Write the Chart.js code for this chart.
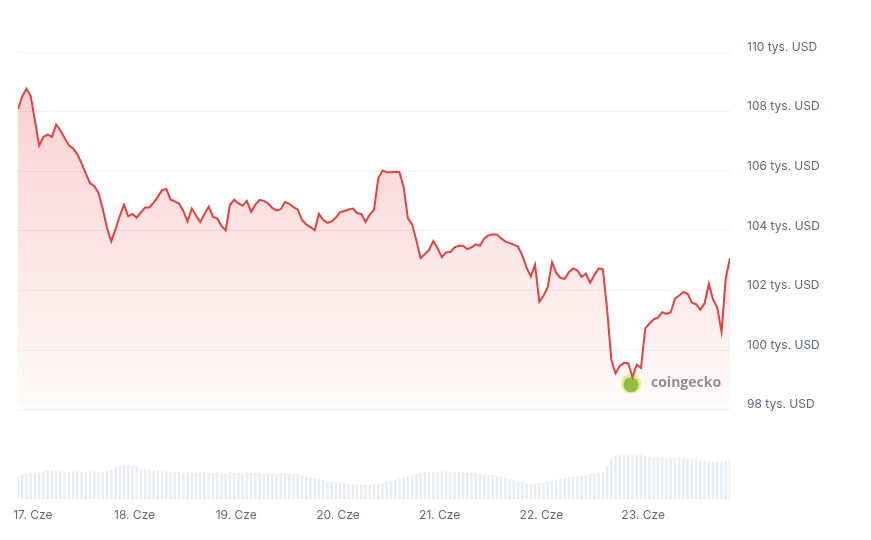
<!DOCTYPE html>
<html><head><meta charset="utf-8">
<script src="https://cdn.jsdelivr.net/npm/chart.js@4.4.1/dist/chart.umd.min.js"></script>
<style>html,body{margin:0;padding:0;background:#fff}#wrap{width:871px;height:540px;position:relative}</style>
</head><body><div id="wrap"><canvas id="c" width="871" height="540"></canvas></div>
<script>
// Hourly BTC price (thousands USD), 16 Cze ~20:30 -> 23 Cze ~20:30
const priceK = [
108.09,108.52,108.77,108.53,107.70,106.87,107.16,107.23,107.16,107.57,
107.37,107.12,106.87,106.77,106.57,106.27,105.92,105.60,105.51,105.27,
104.74,104.10,103.65,104.05,104.50,104.88,104.49,104.57,104.45,104.62,
104.79,104.79,104.95,105.15,105.37,105.41,105.05,104.99,104.92,104.67,
104.32,104.75,104.52,104.30,104.57,104.82,104.47,104.42,104.17,104.02,
104.87,105.05,104.92,104.85,105.01,104.64,104.88,105.04,105.01,104.92,
104.77,104.69,104.73,104.97,104.91,104.80,104.72,104.37,104.22,104.13,
104.02,104.57,104.37,104.27,104.32,104.45,104.63,104.67,104.72,104.75,
104.60,104.57,104.30,104.55,104.71,105.77,106.03,105.97,105.97,105.99,
105.97,105.47,104.42,104.22,103.67,103.09,103.22,103.37,103.66,103.42,
103.12,103.28,103.29,103.45,103.50,103.50,103.39,103.45,103.55,103.50,
103.75,103.85,103.88,103.88,103.75,103.64,103.59,103.54,103.47,103.17,
102.77,102.47,102.87,101.62,101.82,102.12,102.95,102.59,102.42,102.39,
102.62,102.74,102.67,102.45,102.57,102.26,102.52,102.74,102.71,101.37,
99.67,99.22,99.47,99.57,99.55,99.09,99.51,99.40,100.73,100.89,
101.03,101.09,101.27,101.21,101.27,101.72,101.83,101.95,101.89,101.59,
101.54,101.35,101.57,102.22,101.70,101.42,100.62,102.42,103.09
];
// 24h volume (mld USD, estimated)
const volumeB = [
24,25,25,26,26,27,28,29,29,28,
28,27,27,28,28,27,27,28,28,27,
27,28,29,32,33,34,34,33,33,31,
30,30,29,29,28,28,27,27,27,26,
27,26,26,27,27,26,26,27,26,26,
27,26,26,26,27,26,26,26,25,26,
26,25,26,26,25,25,25,24,23,22,
21,20,19,18,17,17,16,16,15,15,
14,14,14,14,15,15,16,17,18,19,
20,22,23,24,25,26,27,27,27,27,
28,28,27,27,27,27,26,26,26,25,
25,24,24,23,22,21,20,19,18,17,
16,15,15,16,16,17,18,19,20,21,
22,22,23,24,24,25,25,26,27,34,
40,43,44,44,44,44,44,44,43,43,
42,42,42,41,41,41,42,41,41,40,
41,40,39,38,37,37,38,38,39
];
const dayLabels = ['17. Cze','18. Cze','19. Cze','20. Cze','21. Cze','22. Cze','23. Cze'];
const firstMidnightHour = 3.5; // hours from first point to 17. Cze 00:00
const yTickValues = [98,100,102,104,106,108,110];
const yUnit = ' tys. USD';
const brand = 'coingecko';

const priceData = priceK.map((v,i)=>({x:i,y:v}));
const volData = volumeB.map((v,i)=>({x:i,y:v}));

const watermark = {
  id:'watermark',
  beforeDatasetsDraw(chart){
    const {ctx, chartArea} = chart;
    const ys = chart.scales.y;
    const cx = chartArea.left + 613, cy = ys.getPixelForValue(98) - 26;
    ctx.save();
    ctx.fillStyle = 'rgba(215,240,120,0.7)';
    ctx.beginPath(); ctx.arc(cx, cy, 10, 0, Math.PI*2); ctx.fill();
    ctx.fillStyle = '#8dc63f';
    ctx.beginPath(); ctx.arc(cx, cy+1, 7.5, 0, Math.PI*2); ctx.fill();
    ctx.font = 'bold 14px "Open Sans", sans-serif';
    ctx.fillStyle = 'rgba(120,128,138,0.85)';
    ctx.textBaseline = 'middle';
    ctx.fillText(brand, cx + 20, cy - 1);
    ctx.restore();
  }
};

new Chart(document.getElementById('c'), {
  data:{
    datasets:[
      {
        type:'line', data:priceData, yAxisID:'y', xAxisID:'x', order:0,
        borderColor:'#e8403f', borderWidth:2, pointRadius:0, tension:0,
        fill:'start',
        backgroundColor:(c)=>{
          const chart=c.chart; const ca=chart.chartArea;
          if(!ca) return 'rgba(0,0,0,0)';
          const ys=chart.scales.y;
          const top=ys.getPixelForValue(109), bot=ys.getPixelForValue(98)+1;
          const g=chart.ctx.createLinearGradient(0,top,0,bot);
          g.addColorStop(0,'rgba(240,60,60,0.24)');
          g.addColorStop(0.97,'rgba(240,60,60,0.03)');
          g.addColorStop(1,'rgba(240,60,60,0)');
          return g;
        }
      },
      {
        type:'bar', data:volData, yAxisID:'y2', xAxisID:'x', order:1,
        backgroundColor:'#e9edf2', barPercentage:0.75, categoryPercentage:0.8
      }
    ]
  },
  options:{
    responsive:false, animation:false,
    layout:{padding:{left:18,top:18,right:0,bottom:0}},
    plugins:{legend:{display:false},tooltip:{enabled:false}},
    scales:{
      x:{
        type:'linear', min:0, max:priceK.length-1, offset:false,
        grid:{display:false}, border:{display:false},
        afterBuildTicks:(s)=>{ s.ticks = dayLabels.map((_,k)=>({value:firstMidnightHour+24*k})); },
        afterFit:(s)=>{ s.height = 41; },
        ticks:{autoSkip:false, maxRotation:0, padding:1, color:'#5f6977',
          font:{family:'Inter, sans-serif', size:12},
          callback:(v,i)=>dayLabels[i]}
      },
      y:{
        type:'linear', position:'right', min:95, max:110.94,
        grid:{color:'#f0f2f4', drawTicks:false, lineWidth:1}, border:{display:false},
        afterBuildTicks:(s)=>{ s.ticks = yTickValues.map(v=>({value:v})); },
        afterFit:(s)=>{ s.width = 141; },
        ticks:{padding:17, labelOffset:-5, color:'#5f6977',
          font:{family:'Inter, sans-serif', size:12},
          callback:(v)=>v+yUnit}
      },
      y2:{type:'linear', display:false, min:0, max:477}
    }
  },
  plugins:[watermark]
});
</script>
</body></html>
